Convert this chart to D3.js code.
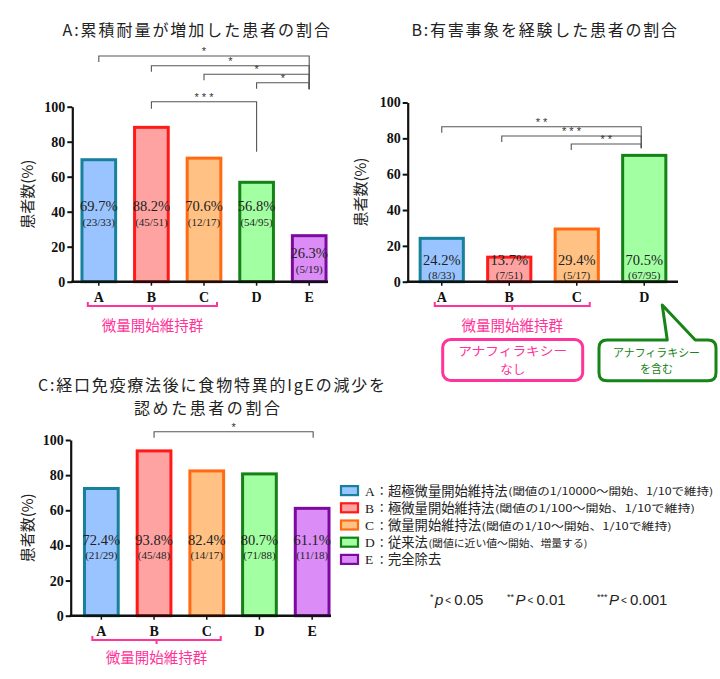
<!DOCTYPE html>
<html><head><meta charset="utf-8">
<script src="https://cdn.jsdelivr.net/npm/d3@7"></script>
<style>
html,body{margin:0;padding:0;background:#fff;}
svg{display:block;}
</style></head>
<body><div id="chart"></div>
<script>
// ---------- data ----------
const groupsA = ["A","B","C","D","E"];
const valuesA = [69.7, 88.2, 70.6, 56.8, 26.3];
const fracsA  = ["(23/33)","(45/51)","(12/17)","(54/95)","(5/19)"];

const groupsB = ["A","B","C","D"];
const valuesB = [24.2, 13.7, 29.4, 70.5];
const fracsB  = ["(8/33)","(7/51)","(5/17)","(67/95)"];

const groupsC = ["A","B","C","D","E"];
const valuesC = [72.4, 93.8, 82.4, 80.7, 61.1];
const fracsC  = ["(21/29)","(45/48)","(14/17)","(71/88)","(11/18)"];

const yTicks = [0, 20, 40, 60, 80, 100];

const sigA = [
  {from:"A", to:"E", label:"*"},
  {from:"B", to:"E", label:"*"},
  {from:"C", to:"E", label:"*"},
  {from:"D", to:"E", label:"*"},
  {from:"B", to:"D", label:"* * *"}
];
const sigB = [
  {from:"A", to:"D", label:"* *"},
  {from:"B", to:"D", label:"* * *"},
  {from:"C", to:"D", label:"* *"}
];
const sigC = [
  {from:"B", to:"E", label:"*"}
];

const legendKeys   = ["A","B","C","D","E"];
const legendNames  = ["超極微量開始維持法","極微量開始維持法","微量開始維持法","従来法","完全除去"];
const legendNotes  = ["(閾値の1/10000～開始、1/10で維持)","(閾値の1/100～開始、1/10で維持)","(閾値の1/10～開始、1/10で維持)","(閾値に近い値～開始、増量する)",""];

const titleA = "A:累積耐量が増加した患者の割合";
const titleB = "B:有害事象を経験した患者の割合";
const titleC1 = "C:経口免疫療法後に食物特異的IgEの減少を";
const titleC2 = "認めた患者の割合";
const yLabel = "患者数(%)";
const groupLabel = "微量開始維持群";
const calloutPink = ["アナフィラキシー", "なし"];
const calloutGreen = ["アナフィラキシー", "を含む"];

// ---------- style ----------
const fills   = {A:"#99c4ff", B:"#ffa2a2", C:"#ffc184", D:"#a2ffa2", E:"#dc8cf6"};
const strokes = {A:"#17819c", B:"#ff1a1a", C:"#ff6a12", D:"#148214", E:"#7c0aa0"};
const pink = "#ff3399";
const green = "#168416";
const JP = "'Noto Sans CJK JP','Noto Sans',sans-serif";
const SERIF = "'Liberation Serif','DejaVu Serif',serif";
const noteWidths = [205, 200, 190, 159, 0];

const W = 720, H = 679;
const svg = d3.select("#chart").append("svg").attr("width", W).attr("height", H);
svg.append("rect").attr("width", W).attr("height", H).attr("fill", "#fff");

function panel(cfg) {
  const g = svg.append("g");
  const x = d3.scaleBand().domain(cfg.groups).range(cfg.xRange)
    .paddingInner(cfg.pi).paddingOuter(cfg.pi / 2);
  const y = d3.scaleLinear().domain([0, 100]).range(cfg.yRange);
  const cx = k => x(k) + x.bandwidth() / 2;

  // bars
  g.selectAll("rect.bar").data(cfg.groups).join("rect")
    .attr("class", "bar")
    .attr("x", k => x(k))
    .attr("y", (k, i) => y(cfg.values[i]))
    .attr("width", x.bandwidth())
    .attr("height", (k, i) => y(0) - y(cfg.values[i]))
    .attr("fill", k => fills[k])
    .attr("stroke", k => strokes[k])
    .attr("stroke-width", 3);

  // value labels
  const lv = (i) => Math.min(cfg.labelLevel, cfg.values[i] - cfg.labelGap);
  g.selectAll("text.pct").data(cfg.groups).join("text")
    .attr("x", k => cx(k))
    .attr("y", (k, i) => y(lv(i)) + 5)
    .attr("text-anchor", "middle")
    .attr("font-family", SERIF).attr("font-size", 14.5).attr("fill", "#222")
    .text((k, i) => cfg.values[i].toFixed(1) + "%");
  g.selectAll("text.frac").data(cfg.groups).join("text")
    .attr("x", k => cx(k))
    .attr("y", (k, i) => y(lv(i)) + 5 + cfg.fracGap)
    .attr("text-anchor", "middle")
    .attr("font-family", SERIF).attr("font-size", 11).attr("fill", "#222")
    .text((k, i) => cfg.fracs[i]);

  // y axis
  const ya = g.append("g").attr("transform", `translate(${cfg.yAxisX},0)`)
    .call(d3.axisLeft(y).tickValues(yTicks).tickSize(5).tickSizeOuter(0).tickPadding(2));
  ya.select(".domain").attr("stroke", "#111").attr("stroke-width", 2.2);
  ya.selectAll(".tick line").attr("stroke", "#111").attr("stroke-width", 2);
  ya.selectAll(".tick text").attr("font-family", SERIF).attr("font-weight", "bold")
    .attr("font-size", 14).attr("fill", "#111");

  // x axis
  const xa = g.append("g").attr("transform", `translate(0,${y(0)})`)
    .call(d3.axisBottom(x).tickSize(4).tickSizeOuter(0).tickPadding(6));
  xa.select(".domain").remove();
  xa.selectAll(".tick line").attr("stroke", "#111").attr("stroke-width", 1.5);
  xa.selectAll(".tick text").attr("font-family", SERIF).attr("font-weight", "bold")
    .attr("font-size", 14).attr("fill", "#111");
  g.append("line").attr("x1", cfg.yAxisX - 1).attr("x2", cfg.xAxisEnd)
    .attr("y1", y(0)).attr("y2", y(0)).attr("stroke", "#111").attr("stroke-width", 2.5);

  // y label
  g.append("text")
    .attr("transform", `translate(${cfg.yLabelX},${(y(0) + y(100)) / 2}) rotate(-90)`)
    .attr("text-anchor", "middle").attr("dominant-baseline", "middle")
    .attr("font-family", JP).attr("font-size", 15).attr("fill", "#222")
    .text(yLabel);

  // significance brackets
  cfg.sig.forEach((s, i) => {
    const yy = cfg.sigY[i];
    const x1 = cx(s.from) + (cfg.sigLeftShift ? cfg.sigLeftShift[i] : 0);
    const x2 = cx(s.to) - cfg.sigRightInset;
    const d1 = cfg.sigDropL[i], d2 = cfg.sigDropR[i];
    g.append("path")
      .attr("d", `M${x1},${yy + d1} L${x1},${yy} L${x2},${yy} L${x2},${yy + d2}`)
      .attr("fill", "none").attr("stroke", "#555").attr("stroke-width", 1.1);
    g.append("text").attr("x", (x1 + x2) / 2).attr("y", yy - 1)
      .attr("text-anchor", "middle").attr("font-family", "'Liberation Sans',sans-serif")
      .attr("font-size", 11).attr("fill", "#333").text(s.label);
  });

  // group brace (A..C)
  const bx1 = cx(cfg.groups[0]) - cfg.braceL, bx2 = cx(cfg.groups[2]) + cfg.braceR;
  const bm = (bx1 + bx2) / 2, by = cfg.braceY;
  g.append("path")
    .attr("d", `M${bx1},${by - 4} L${bx1},${by} L${bx2},${by} L${bx2},${by - 4} M${bm},${by} L${bm},${by + 4}`)
    .attr("fill", "none").attr("stroke", pink).attr("stroke-width", 2);
  g.append("text").attr("x", bm).attr("y", by + cfg.braceText).attr("text-anchor", "middle")
    .attr("font-family", JP).attr("font-size", 14.5).attr("fill", pink).text(groupLabel);

  return {x, y, cx};
}

// ---------- Panel A ----------
const pA = panel({
  groups: groupsA, values: valuesA, fracs: fracsA,
  xRange: [72.5, 335.5], pi: 0.36, yRange: [281.7, 106.7],
  yAxisX: 72.3, xAxisEnd: 328, yLabelX: 29,
  labelLevel: 43, labelGap: 10, fracGap: 15,
  sig: sigA, sigY: [56, 65.7, 74.3, 82.7, 101.7],
  sigDropL: [6, 6, 6, 6, 7], sigDropR: [33, 23.5, 15, 6.5, 50],
  sigRightInset: 0,
  braceY: 306, braceL: 11, braceR: 13, braceText: 24.5
});
// ---------- Panel B ----------
const pB = panel({
  groups: groupsB, values: valuesB, fracs: fracsB,
  xRange: [408, 678], pi: 0.36, yRange: [281.7, 102.5],
  yAxisX: 407.7, xAxisEnd: 678, yLabelX: 362,
  labelLevel: 12, labelGap: 0, fracGap: 13.5,
  sig: sigB, sigY: [126.7, 136, 144],
  sigLeftShift: [0, -7.5, -5.5],
  sigDropL: [6, 6, 6], sigDropR: [21, 12, 4.5],
  sigRightInset: 3,
  braceY: 306, braceL: 7, braceR: 13, braceText: 24.5
});
// ---------- Panel C ----------
const pC = panel({
  groups: groupsC, values: valuesC, fracs: fracsC,
  xRange: [75, 338.5], pi: 0.36, yRange: [615.7, 440],
  yAxisX: 70.7, xAxisEnd: 331, yLabelX: 29,
  labelLevel: 43, labelGap: 10, fracGap: 13.5,
  sig: sigC, sigY: [431.7],
  sigDropL: [6], sigDropR: [6],
  sigRightInset: -1,
  braceY: 640, braceL: 9, braceR: 14, braceText: 23
});

// ---------- titles ----------
function title(txt, x1, x2, yb) {
  svg.append("text").attr("x", x1).attr("y", yb)
    .attr("font-family", JP).attr("font-size", 16).attr("fill", "#222")
    .attr("textLength", x2 - x1).attr("lengthAdjust", "spacing").text(txt);
}
title(titleA, 62.5, 330, 36);
title(titleB, 411.5, 677, 36);
title(titleC1, 38, 385, 391);
title(titleC2, 134, 280, 414);

// ---------- callouts ----------
function twoLine(lines, xc, y0, gap, size, color, firstWidth) {
  lines.forEach((s, i) => {
    const t = svg.append("text").attr("text-anchor", "middle")
      .attr("x", xc).attr("y", y0 + i * gap)
      .attr("font-family", JP).attr("font-size", size).attr("fill", color).text(s);
    if (i === 0 && firstWidth) t.attr("textLength", firstWidth).attr("lengthAdjust", "spacingAndGlyphs");
  });
}
svg.append("rect").attr("x", 442.7).attr("y", 339.5).attr("width", 140).attr("height", 41)
  .attr("rx", 8).attr("fill", "#fff").attr("stroke", pink).attr("stroke-width", 3);
twoLine(calloutPink, 512.7, 355.5, 18.5, 12.5, pink, 109);

const tipX = pB.cx("D") + 18, tipY = 305;
const gx1 = 599, gx2 = 716, gy1 = 340, gy2 = 380.7, r = 8;
svg.append("path")
  .attr("d", `M${gx1 + r},${gy1} L${tipX + 5},${gy1} L${tipX},${tipY} L${tipX + 33},${gy1} L${gx2 - r},${gy1}
    Q${gx2},${gy1} ${gx2},${gy1 + r} L${gx2},${gy2 - r} Q${gx2},${gy2} ${gx2 - r},${gy2}
    L${gx1 + r},${gy2} Q${gx1},${gy2} ${gx1},${gy2 - r} L${gx1},${gy1 + r} Q${gx1},${gy1} ${gx1 + r},${gy1} Z`)
  .attr("fill", "#fff").attr("stroke", green).attr("stroke-width", 3).attr("stroke-linejoin", "round");
twoLine(calloutGreen, 656.5, 356.5, 16, 11, green, 87);

// ---------- legend ----------
const lg = svg.append("g");
const ly = d3.scaleBand().domain(legendKeys).range([482, 568]);
legendKeys.forEach((k, i) => {
  const yc = ly(k) + ly.bandwidth() / 2;
  lg.append("rect").attr("x", 341).attr("y", yc - 4.5).attr("width", 17).attr("height", 9)
    .attr("fill", fills[k]).attr("stroke", strokes[k]).attr("stroke-width", 2.2);
  lg.append("text").attr("x", 365).attr("y", yc + 5).attr("fill", "#222")
    .attr("font-family", SERIF).attr("font-size", 13.5).text(k);
  lg.append("text").attr("x", 376).attr("y", yc + 4.5).attr("fill", "#222")
    .attr("font-family", JP).attr("font-size", 11.5).text("：");
  const nm = lg.append("text").attr("x", 388).attr("y", yc + 5).attr("fill", "#222")
    .attr("font-family", JP).attr("font-size", 13.3).text(legendNames[i]);
  if (legendNotes[i]) {
    const nx = 388 + nm.node().getComputedTextLength() + 0.5;
    lg.append("text").attr("x", nx).attr("y", yc + 4.5).attr("fill", "#222")
      .attr("font-family", JP).attr("font-size", 9.8)
      .attr("textLength", noteWidths[i]).attr("lengthAdjust", "spacingAndGlyphs")
      .text(legendNotes[i]);
  }
});

// ---------- p-values ----------
const pvals = [
  {x: 430, star: "*", P: "p", val: "0.05"},
  {x: 507, star: "**", P: "P", val: "0.01"},
  {x: 597, star: "***", P: "P", val: "0.001"}
];
pvals.forEach(p => {
  const t = svg.append("text").attr("x", p.x).attr("y", 605)
    .attr("font-family", "'Liberation Sans',sans-serif").attr("fill", "#222");
  t.append("tspan").attr("font-size", 9).attr("dy", -5).text(p.star);
  t.append("tspan").attr("font-size", 15).attr("font-style", "italic").attr("dy", 5).attr("dx", 1.5).text(p.P);
  t.append("tspan").attr("font-size", 10).attr("dx", 2).attr("dy", -1.5).text("<");
  t.append("tspan").attr("font-size", 15).attr("dx", 3).attr("dy", 1.5).text(p.val);
});
</script>
</body></html>
